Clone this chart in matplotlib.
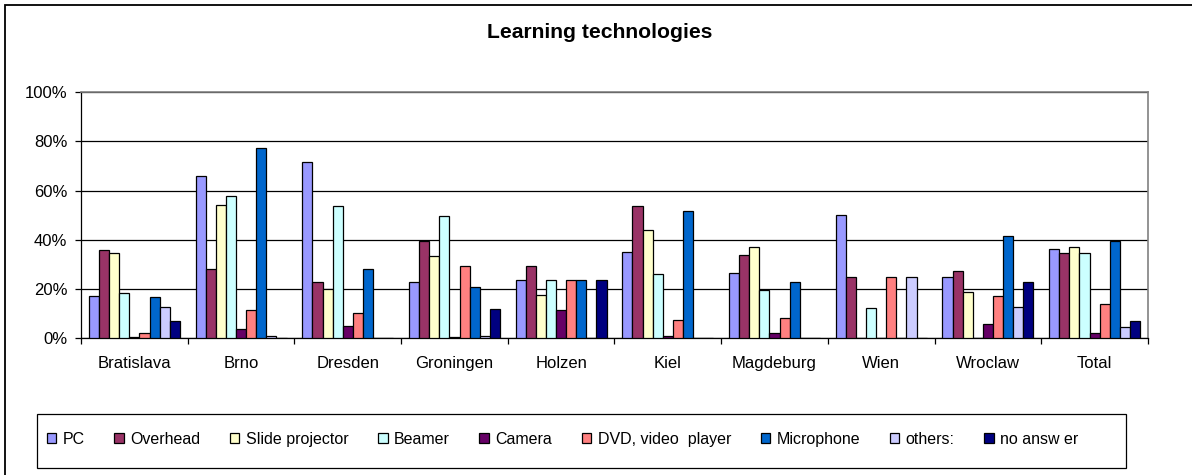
import matplotlib
matplotlib.use("Agg")
import matplotlib.pyplot as plt
import numpy as np
from matplotlib.patches import Rectangle

plt.rcParams['font.family'] = ['Liberation Sans', 'DejaVu Sans']

# Standorte (Kategorien)
cities = ["Bratislava", "Brno", "Dresden", "Groningen", "Holzen",
          "Kiel", "Magdeburg", "Wien", "Wroclaw", "Total"]

series = ["PC", "Overhead", "Slide projector", "Beamer", "Camera",
          "DVD, video  player", "Microphone", "others:", "no answ er"]

# Anteile in %
pc        = [17.1, 65.9, 71.7, 23.0, 23.6, 34.9, 26.7, 50.0, 24.8, 36.3]
overhead  = [35.9, 28.1, 23.0, 39.4, 29.4, 53.7, 33.9, 25.0, 27.5, 34.5]
slide     = [34.5, 54.3, 20.2, 33.3, 17.7, 44.0, 37.1, 0.0, 19.0, 37.1]
beamer    = [18.5, 57.6, 53.7, 49.8, 23.6, 26.3, 19.7, 12.5, 0.0, 34.5]
camera    = [0.5, 3.8, 5.0, 0.7, 11.5, 1.1, 2.3, 0.0, 5.8, 2.3]
dvd       = [2.3, 11.6, 10.1, 29.4, 23.6, 7.6, 8.1, 25.0, 17.1, 14.0]
micro     = [16.6, 77.2, 28.1, 20.9, 23.6, 51.7, 22.8, 0.0, 41.6, 39.4]
others    = [12.7, 1.1, 0.0, 1.1, 0.0, 0.0, 0.0, 25.0, 12.7, 4.5]
no_answer = [6.9, 0.0, 0.0, 12.0, 23.6, 0.0, 0.0, 0.0, 23.0, 6.9]

colors = ["#9999FF", "#993366", "#FFFFCC", "#CCFFFF", "#660066",
          "#FF8080", "#0066CC", "#CCCCFF", "#000080"]

data = [pc, overhead, slide, beamer, camera, dvd, micro, others, no_answer]

fig = plt.figure(figsize=(11.92, 4.75), dpi=100)
ax = fig.add_axes([0.068, 0.2878, 0.895, 0.5185])

x = np.arange(len(cities))
w = 0.0947
for i, vals in enumerate(data):
    ax.bar(x + (i - 4) * w, vals, w, color=colors[i], edgecolor="black",
           linewidth=0.9, label=series[i], zorder=3)

ax.set_xlim(-0.5, len(cities) - 0.5)
ax.set_ylim(0, 100)
ax.set_yticks(np.arange(0, 101, 20))
ax.set_yticklabels([f"{v}%" for v in range(0, 101, 20)])
ax.yaxis.grid(True, color="black", linewidth=0.9, zorder=0)
ax.set_axisbelow(True)

ax.set_xticks(x)
ax.set_xticklabels(cities)
ax.set_xticks(np.arange(-0.5, len(cities) - 0.4, 1), minor=True)
ax.tick_params(axis="x", which="major", length=0, pad=13, labelsize=12)
ax.tick_params(axis="x", which="minor", length=4, width=0.9, direction="out")
ax.tick_params(axis="y", length=4, width=0.9, pad=6, labelsize=12)

for s in ["top", "right"]:
    ax.spines[s].set_color("#808080")
    ax.spines[s].set_linewidth(1.2)
for s in ["left", "bottom"]:
    ax.spines[s].set_color("black")
    ax.spines[s].set_linewidth(0.9)

fig.text(0.5034, 0.932, "Learning technologies", ha="center", va="center",
         fontsize=15.2, fontweight="bold")

# Legende ohne eigenen Rahmen, Rahmen separat
leg = fig.legend(loc="center left", bbox_to_anchor=(46.5 / 1192, 0.0755),
                 ncol=9, fontsize=11.5, frameon=False,
                 handlelength=0.6, handleheight=0.6, handletextpad=0.4,
                 borderaxespad=0, borderpad=0, columnspacing=1.85)
for h in leg.legend_handles:
    h.set_edgecolor("black")
    h.set_linewidth(0.9)

fig.patches.append(Rectangle((37.3 / 1192, 6.7 / 475), 1088.4 / 1192, 54.3 / 475,
                             transform=fig.transFigure, fill=False,
                             edgecolor="black", linewidth=0.9))

# Rahmen um das ganze Diagramm
fig.patches.append(Rectangle((4.5 / 1192, -0.1), 1.2, 1.0 - 4.5 / 475 + 0.1,
                             transform=fig.transFigure, fill=False,
                             edgecolor="black", linewidth=1.3))

fig.savefig("out.png", dpi=100)
